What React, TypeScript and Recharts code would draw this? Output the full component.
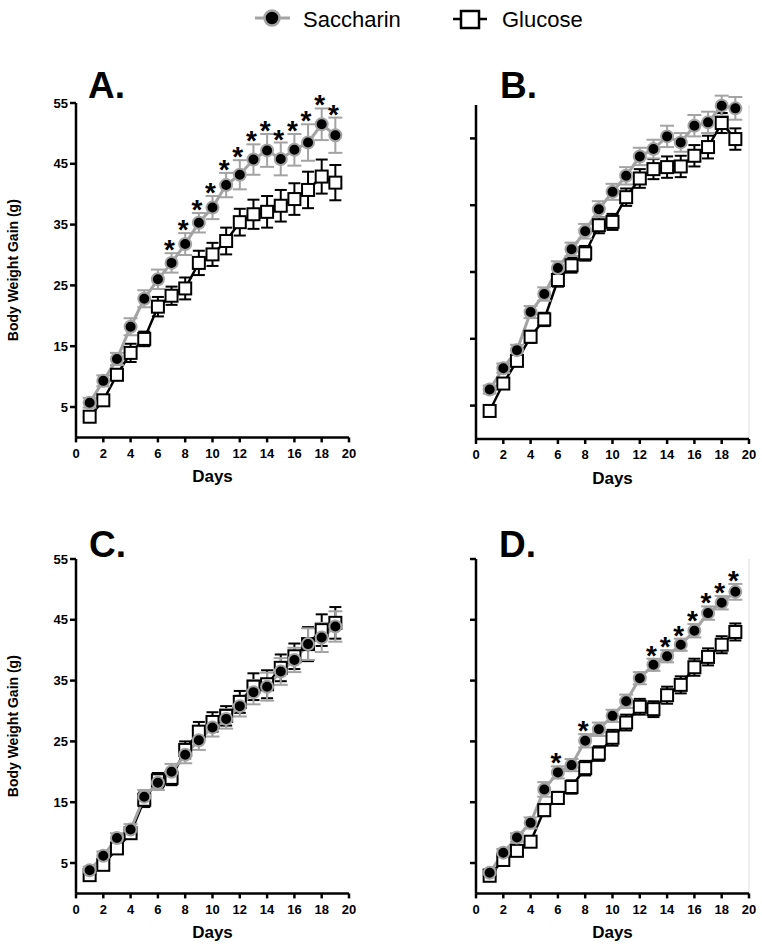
import React from 'react'
import { LineChart, Line, XAxis, YAxis, ErrorBar, ReferenceLine } from 'recharts'

const days = [1, 2, 3, 4, 5, 6, 7, 8, 9, 10, 11, 12, 13, 14, 15, 16, 17, 18, 19]
const xTicks = [0, 2, 4, 6, 8, 10, 12, 14, 16, 18, 20]
const yTicks = [5, 15, 25, 35, 45, 55]
const yTicksB = [5, 15, 25, 35, 45]

// panel A
const saccharinA = [5.7, 9.3, 12.9, 18.2, 22.8, 26.0, 28.7, 31.8, 35.3, 37.8, 41.5, 43.2, 45.7, 47.2, 45.8, 47.3, 48.5, 51.5, 49.7]
const saccharinSemA = [0.8, 0.9, 1.0, 1.4, 1.4, 1.6, 1.6, 1.8, 1.6, 1.9, 2.0, 2.4, 2.5, 2.7, 2.7, 2.6, 3.0, 2.6, 2.9]
const glucoseA = [3.4, 6.1, 10.3, 13.9, 16.2, 21.5, 23.3, 24.5, 28.7, 30.1, 32.3, 35.4, 36.7, 37.1, 38.1, 39.2, 40.7, 42.9, 41.9]
const glucoseSemA = [0.6, 0.8, 0.9, 1.5, 1.2, 1.6, 1.5, 1.8, 2.0, 1.9, 2.2, 2.2, 2.4, 2.6, 2.6, 2.6, 3.0, 2.8, 2.9]
const starsA = [7, 8, 9, 10, 11, 12, 13, 14, 15, 16, 17, 18, 19]

// panel B
const saccharinB = [7.4, 10.6, 13.3, 19.0, 21.7, 25.6, 28.4, 31.1, 34.4, 37.0, 39.4, 42.3, 43.4, 45.3, 44.4, 46.9, 47.4, 49.9, 49.5]
const saccharinSemB = [0.6, 0.7, 0.8, 0.9, 1.0, 1.0, 1.0, 1.1, 1.2, 1.2, 1.3, 1.3, 1.4, 1.6, 1.4, 1.6, 1.6, 1.5, 1.7]
const glucoseB = [4.2, 8.3, 11.7, 15.3, 17.9, 23.8, 26.0, 27.8, 32.0, 32.5, 36.2, 39.0, 40.4, 40.7, 40.8, 42.4, 43.7, 47.3, 44.9]
const glucoseSemB = [0.5, 0.7, 0.8, 0.9, 1.0, 1.0, 1.1, 1.1, 1.2, 1.2, 1.3, 1.4, 1.5, 1.6, 1.6, 1.6, 1.7, 1.5, 1.6]
const starsB: number[] = []

// panel C
const saccharinC = [3.8, 6.2, 9.1, 10.5, 15.9, 18.2, 20.0, 22.8, 25.2, 27.3, 28.7, 30.8, 33.1, 34.0, 36.5, 38.4, 41.0, 42.1, 43.9]
const saccharinSemC = [0.6, 0.7, 0.8, 0.9, 1.1, 1.2, 1.3, 1.4, 1.6, 1.5, 1.6, 1.7, 2.0, 2.3, 2.2, 2.0, 2.6, 2.4, 2.5]
const glucoseC = [3.0, 4.7, 7.4, 9.9, 15.4, 18.6, 19.0, 23.6, 26.6, 28.2, 29.2, 31.5, 34.0, 34.4, 37.1, 39.0, 41.0, 43.3, 44.5]
const glucoseSemC = [0.6, 0.7, 0.8, 0.9, 1.2, 1.2, 1.2, 1.4, 1.6, 1.6, 1.6, 1.8, 2.2, 2.3, 2.2, 2.1, 2.8, 2.6, 2.6]
const starsC: number[] = []

// panel D
const saccharinD = [3.4, 6.7, 9.2, 11.6, 17.1, 19.9, 21.1, 25.1, 27.0, 29.2, 31.6, 35.4, 37.6, 39.0, 40.9, 43.2, 46.1, 47.8, 49.6]
const saccharinSemD = [0.6, 0.6, 0.7, 0.9, 1.2, 1.0, 1.0, 1.1, 1.1, 1.0, 1.1, 1.0, 1.0, 1.0, 1.0, 1.1, 1.1, 1.1, 1.3]
const glucoseD = [2.9, 5.5, 7.0, 8.5, 13.7, 15.7, 17.5, 20.6, 23.0, 25.6, 28.1, 30.7, 30.3, 32.6, 34.3, 37.2, 38.9, 40.9, 43.0]
const glucoseSemD = [0.5, 0.6, 0.7, 0.8, 1.0, 1.0, 1.1, 1.2, 1.2, 1.3, 1.3, 1.3, 1.3, 1.4, 1.4, 1.4, 1.4, 1.4, 1.4]
const starsD = [6, 8, 13, 14, 15, 16, 17, 18, 19]

const FONT = '"Liberation Sans", Arial, Helvetica, sans-serif'
const SAC_GRAY = '#a3a3a3'

const buildRows = (sac: number[], sacSem: number[], glu: number[], gluSem: number[], stars: number[]) =>
  days.map((day, i) => ({
    day,
    sac: sac[i],
    sacErr: sacSem[i],
    glu: glu[i],
    gluErr: gluSem[i],
    star: stars.includes(day) ? sac[i] + sacSem[i] : null,
  }))

function SquareDot(props: any) {
  const { cx, cy, index } = props
  if (cx == null || cy == null) return <g key={`sq-${index}`} />
  return (
    <rect key={`sq-${index}`} x={cx - 6} y={cy - 6} width={12} height={12}
      fill="#fff" stroke="#000" strokeWidth={2} />
  )
}

function StarDot(props: any) {
  const { cx, cy, index, payload } = props
  if (cx == null || cy == null || payload?.star == null) return <g key={`st-${index}`} />
  return (
    <text key={`st-${index}`} x={cx - 2} y={cy + 6} textAnchor="middle"
      fontSize={28} fontWeight="bold" fill="#000" fontFamily={FONT}>*</text>
  )
}

// tick lines only, no numbers (panels B and D)
function EmptyTick() {
  return <g />
}

const renderYLabel = (props: any) => {
  const vb = props.viewBox
  const cx = 13
  const cy = vb.y + vb.height / 2
  return (
    <text x={cx} y={cy} transform={`rotate(-90, ${cx}, ${cy})`} textAnchor="middle"
      dominantBaseline="central" fontSize={14} fontWeight="bold" fill="#000" fontFamily={FONT}>
      Body Weight Gain (g)
    </text>
  )
}

const renderXLabel = (props: any) => {
  const vb = props.viewBox
  return (
    <text x={vb.x + vb.width / 2} y={vb.y + 44.5} textAnchor="middle"
      fontSize={17} fontWeight="bold" fill="#000" fontFamily={FONT}>
      Days
    </text>
  )
}

interface PanelProps {
  rows: ReturnType<typeof buildRows>
  left: number
  top: number
  width: number
  height: number
  margin: { top: number; right: number; bottom: number; left: number }
  xHeight: number
  yMax: number
  ticks: number[]
  labels: boolean
  edge: boolean
  clip: boolean
}

function Panel({ rows, left, top, width, height, margin, xHeight, yMax, ticks, labels, edge, clip }: PanelProps) {
  const axisStyle = { stroke: '#000', strokeWidth: 2.5 }
  return (
    <div style={{ position: 'absolute', left, top }}>
      <LineChart width={width} height={height} data={rows} margin={margin}>
        {edge && <ReferenceLine x={20} stroke="#dcdcdc" strokeWidth={1} />}
        <XAxis
          type="number"
          dataKey="day"
          domain={[0, 20]}
          ticks={xTicks}
          interval={0}
          height={xHeight}
          axisLine={axisStyle}
          tickLine={axisStyle}
          tickSize={5}
          tickMargin={6}
          tick={{ fontSize: 13, fontWeight: 'bold', fill: '#000', fontFamily: FONT }}
          label={{ content: renderXLabel }}
        />
        <YAxis
          type="number"
          domain={[0, yMax]}
          allowDataOverflow={clip}
          ticks={ticks}
          interval={0}
          width={71}
          axisLine={axisStyle}
          tickLine={axisStyle}
          tickSize={6}
          tickMargin={2}
          tick={labels ? { fontSize: 13, fontWeight: 'bold', fill: '#000', fontFamily: FONT } : <EmptyTick />}
          label={labels ? { content: renderYLabel } : undefined}
        />
        <Line
          dataKey="glu"
          type="linear"
          stroke="#000"
          strokeWidth={2.5}
          dot={<SquareDot />}
          activeDot={false}
          isAnimationActive={false}
        >
          <ErrorBar dataKey="gluErr" width={6} strokeWidth={2} stroke="#000" direction="y" />
        </Line>
        <Line
          dataKey="sac"
          type="linear"
          stroke={SAC_GRAY}
          strokeWidth={3}
          dot={{ r: 6, fill: '#000', stroke: SAC_GRAY, strokeWidth: 2, clipDot: false }}
          activeDot={false}
          isAnimationActive={false}
        >
          <ErrorBar dataKey="sacErr" width={7} strokeWidth={2} stroke={SAC_GRAY} direction="y" />
        </Line>
        <Line
          dataKey="star"
          type="linear"
          stroke="none"
          dot={<StarDot />}
          activeDot={false}
          connectNulls={false}
          isAnimationActive={false}
        />
      </LineChart>
    </div>
  )
}

export default function App() {
  const rowsA = buildRows(saccharinA, saccharinSemA, glucoseA, glucoseSemA, starsA)
  const rowsB = buildRows(saccharinB, saccharinSemB, glucoseB, glucoseSemB, starsB)
  const rowsC = buildRows(saccharinC, saccharinSemC, glucoseC, glucoseSemC, starsC)
  const rowsD = buildRows(saccharinD, saccharinSemD, glucoseD, glucoseSemD, starsD)

  return (
    <div style={{ position: 'absolute', left: 0, top: 0, width: 762, height: 949, overflow: 'hidden', background: '#fff', fontFamily: FONT }}>
      <Panel rows={rowsA} left={0} top={60} width={380} height={440}
        margin={{ top: 43, right: 31, bottom: 0, left: 5 }} xHeight={62.6}
        yMax={55} ticks={yTicks} labels edge={false} clip={false} />
      <Panel rows={rowsB} left={380} top={60} width={382} height={440}
        margin={{ top: 45, right: 13, bottom: 0, left: 25 }} xHeight={61}
        yMax={50} ticks={yTicksB} labels={false} edge clip />
      <Panel rows={rowsC} left={0} top={515} width={380} height={430}
        margin={{ top: 44, right: 31, bottom: 0, left: 5 }} xHeight={51.6}
        yMax={55} ticks={yTicks} labels edge={false} clip={false} />
      <Panel rows={rowsD} left={380} top={515} width={382} height={430}
        margin={{ top: 44, right: 13, bottom: 0, left: 25 }} xHeight={51.6}
        yMax={55} ticks={yTicks} labels={false} edge clip={false} />

      <svg width={762} height={949} style={{ position: 'absolute', left: 0, top: 0, pointerEvents: 'none' }}>
        {/* legend */}
        <line x1={255} y1={18} x2={290} y2={18} stroke={SAC_GRAY} strokeWidth={3} />
        <circle cx={272} cy={18} r={7.5} fill="#000" stroke={SAC_GRAY} strokeWidth={2.5} />
        <text x={303} y={26.5} fontSize={22} fill="#000" fontFamily={FONT}>Saccharin</text>
        <line x1={453} y1={19} x2={487} y2={19} stroke="#000" strokeWidth={2.5} />
        <rect x={461} y={11} width={18} height={17} fill="#fff" stroke="#000" strokeWidth={2.5} />
        <text x={502} y={26.5} fontSize={22} fill="#000" fontFamily={FONT}>Glucose</text>

        {/* panel letters */}
        <text x={88} y={98} fontSize={37} fontWeight="bold" fill="#000" fontFamily={FONT}>A.</text>
        <text x={500} y={98} fontSize={37} fontWeight="bold" fill="#000" fontFamily={FONT}>B.</text>
        <text x={89} y={557} fontSize={37} fontWeight="bold" fill="#000" fontFamily={FONT}>C.</text>
        <text x={499} y={557} fontSize={37} fontWeight="bold" fill="#000" fontFamily={FONT}>D.</text>
      </svg>
    </div>
  )
}
